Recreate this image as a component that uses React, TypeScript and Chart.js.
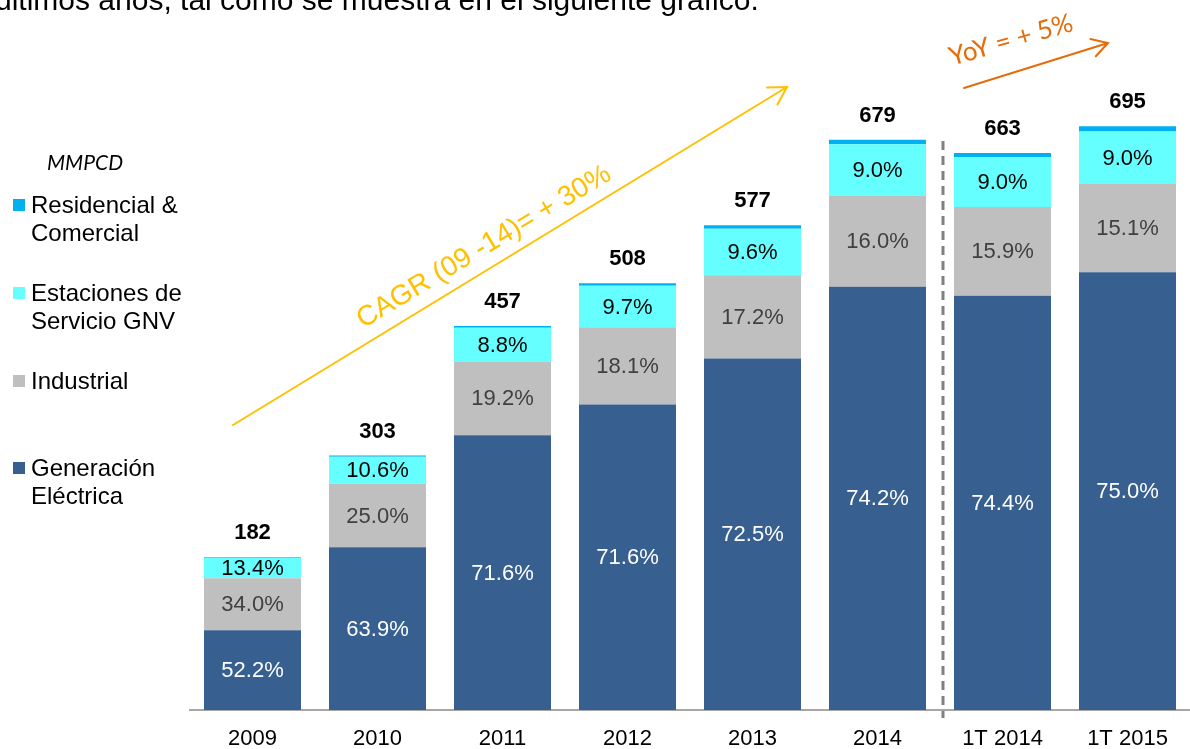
import React, { useEffect, useRef } from "react";
import { Chart, registerables } from "chart.js";

Chart.register(...registerables);

const categories = ["2009", "2010", "2011", "2012", "2013", "2014", "1T 2014", "1T 2015"];
const totals = [182, 303, 457, 508, 577, 679, 663, 695];
const pctGeneracion = [52.2, 63.9, 71.6, 71.6, 72.5, 74.2, 74.4, 75.0];
const pctIndustrial = [34.0, 25.0, 19.2, 18.1, 17.2, 16.0, 15.9, 15.1];
const pctEstaciones = [13.4, 10.6, 8.8, 9.7, 9.6, 9.0, 9.0, 9.0];
const pctResidencial = [0.4, 0.5, 0.4, 0.6, 0.7, 0.8, 0.7, 0.9];

const seriesNames = ["Generación Eléctrica", "Industrial", "Estaciones de Servicio GNV", "Residencial & Comercial"];
const seriesPcts = [pctGeneracion, pctIndustrial, pctEstaciones, pctResidencial];
const seriesColors = ["#375F8F", "#BFBFBF", "#66FFFF", "#00B0F0"];
const labelColors = ["#FFFFFF", "#404040", "#000000", null];

const introText = "últimos años, tal como se muestra en el siguiente gráfico.";
const unitText = "MMPCD";
const cagrText = "CAGR (09 -14)= + 30%";
const yoyText = "YoY = + 5%";

const ARIAL = '"Liberation Sans", Arial, sans-serif';

function arrow(ctx: CanvasRenderingContext2D, x1: number, y1: number, x2: number, y2: number, color: string, w: number, head: number) {
  ctx.save();
  ctx.strokeStyle = color;
  ctx.lineWidth = w;
  ctx.lineCap = "round";
  ctx.beginPath();
  ctx.moveTo(x1, y1);
  ctx.lineTo(x2, y2);
  const a = Math.atan2(y2 - y1, x2 - x1);
  ctx.moveTo(x2 - head * Math.cos(a - Math.PI / 6), y2 - head * Math.sin(a - Math.PI / 6));
  ctx.lineTo(x2, y2);
  ctx.lineTo(x2 - head * Math.cos(a + Math.PI / 6), y2 - head * Math.sin(a + Math.PI / 6));
  ctx.stroke();
  ctx.restore();
}

const overlayPlugin = {
  id: "overlay",
  afterDatasetsDraw(chart: any) {
    const ctx: CanvasRenderingContext2D = chart.ctx;
    ctx.save();
    // segment percentage labels
    ctx.textAlign = "center";
    ctx.textBaseline = "middle";
    ctx.font = `22px ${ARIAL}`;
    for (let d = 0; d < 3; d++) {
      const meta = chart.getDatasetMeta(d);
      meta.data.forEach((el: any, i: number) => {
        ctx.fillStyle = labelColors[d] as string;
        ctx.fillText(seriesPcts[d][i].toFixed(1) + "%", el.x, (el.y + el.base) / 2 + 1);
      });
    }
    // totals
    ctx.font = `bold 22px ${ARIAL}`;
    ctx.fillStyle = "#000000";
    const topMeta = chart.getDatasetMeta(3);
    topMeta.data.forEach((el: any, i: number) => {
      ctx.fillText(String(totals[i]), el.x, el.y - 24);
    });

    // dashed separator
    const xs = chart.scales.x;
    const sepX = (xs.getPixelForValue(5) + xs.getPixelForValue(6)) / 2 + 3;
    ctx.strokeStyle = "#808080";
    ctx.lineWidth = 3;
    ctx.setLineDash([9, 6]);
    ctx.beginPath();
    ctx.moveTo(sepX, 141);
    ctx.lineTo(sepX, chart.chartArea.bottom + 8);
    ctx.stroke();
    ctx.setLineDash([]);

    // CAGR arrow + text
    arrow(ctx, 233, 425, 787, 87, "#FFC000", 2, 20);
    ctx.save();
    ctx.translate(484, 247);
    ctx.rotate(-0.54);
    ctx.font = `28px ${ARIAL}`;
    ctx.fillStyle = "#FFC000";
    ctx.fillText(cagrText, 0, 0);
    ctx.restore();

    // YoY arrow + text
    arrow(ctx, 964, 88, 1108, 43, "#E46C0A", 2, 18);
    ctx.save();
    ctx.translate(1011, 40);
    ctx.rotate(-0.28);
    ctx.font = `26px Lato, "Open Sans", sans-serif`;
    ctx.fillStyle = "#E46C0A";
    ctx.fillText(yoyText, 0, 0);
    ctx.restore();

    // intro text (cut at top)
    ctx.textAlign = "left";
    ctx.textBaseline = "alphabetic";
    ctx.font = `30px ${ARIAL}`;
    ctx.fillStyle = "#000000";
    ctx.fillText(introText, -5, 10);

    // legend
    ctx.font = `italic 21px Lato, sans-serif`;
    ctx.fillText(unitText, 47, 170);
    const legendItems: { idx: number; lines: string[]; y: number }[] = [
      { idx: 3, lines: ["Residencial &", "Comercial"], y: 205 },
      { idx: 2, lines: ["Estaciones de", "Servicio GNV"], y: 293 },
      { idx: 1, lines: ["Industrial"], y: 381 },
      { idx: 0, lines: ["Generación", "Eléctrica"], y: 468 },
    ];
    ctx.font = `24px ${ARIAL}`;
    ctx.textBaseline = "middle";
    legendItems.forEach((it) => {
      ctx.fillStyle = seriesColors[it.idx];
      ctx.fillRect(13, it.y - 6, 12, 12);
      ctx.fillStyle = "#000000";
      it.lines.forEach((ln, k) => ctx.fillText(ln, 31, it.y + 1 + k * 28));
    });
    ctx.restore();
  },
};

export default function App() {
  const ref = useRef<HTMLCanvasElement>(null);
  useEffect(() => {
    if (!ref.current) return;
    const datasets = seriesPcts.map((p, d) => ({
      label: seriesNames[d],
      data: p.map((v, i) => (totals[i] * v) / 100),
      backgroundColor: seriesColors[d],
      borderWidth: 0,
      barPercentage: 0.776,
      categoryPercentage: 1,
    }));
    const chart = new Chart(ref.current, {
      type: "bar",
      data: { labels: categories, datasets },
      options: {
        animation: false,
        responsive: false,
        layout: { padding: { left: 190, right: 0, top: 38, bottom: 0 } },
        plugins: { legend: { display: false }, tooltip: { enabled: false } },
        scales: {
          x: {
            stacked: true,
            grid: { display: false, drawTicks: false },
            border: { display: true, color: "#A6A6A6", width: 2 },
            ticks: { color: "#000000", font: { family: ARIAL, size: 22 }, padding: 16 },
            afterFit: (s: any) => {
              s.height = 39;
            },
          },
          y: { stacked: true, display: false, min: 0, max: 800 },
        },
      },
      plugins: [overlayPlugin],
    });
    return () => chart.destroy();
  }, []);
  return (
    <div style={{ position: "absolute", left: 0, top: 0, width: 1190, height: 749, background: "#fff", overflow: "hidden" }}>
      <canvas ref={ref} width={1190} height={749} style={{ display: "block" }} />
    </div>
  );
}
